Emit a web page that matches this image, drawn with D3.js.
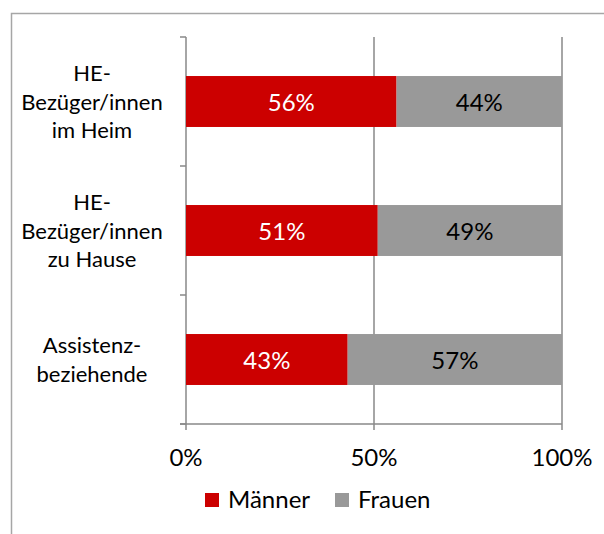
<!DOCTYPE html>
<html>
<head>
<meta charset="utf-8">
<script src="https://cdn.jsdelivr.net/npm/d3@7"></script>
<style>
  body { margin: 0; background: #fff; }
  svg { display: block; font-family: Lato, "Open Sans", sans-serif; }
</style>
</head>
<body>
<svg id="chart"></svg>
<script>
// Data
const categories = [
  ["HE-", "Bezüger/innen", "im Heim"],
  ["HE-", "Bezüger/innen", "zu Hause"],
  ["Assistenz-", "beziehende"],
];
const maenner = [56, 51, 43];
const frauen = [44, 49, 57];
const seriesNames = ["Männer", "Frauen"];
const xTicks = [0, 50, 100];

const width = 604;
const height = 534;
const plot = { left: 186, right: 562, top: 37, bottom: 424 };
const colors = { Männer: "#cc0000", Frauen: "#999999" };
const axisColor = "#898989";

const svg = d3.select("#chart").attr("width", width).attr("height", height);

// Outer frame (runs off the right and bottom edge)
svg
  .append("rect")
  .attr("x", 11.5)
  .attr("y", 13.5)
  .attr("width", 700)
  .attr("height", 700)
  .attr("fill", "none")
  .attr("stroke", "#a6a6a6")
  .attr("stroke-width", 1.5);

const keys = categories.map((d, i) => i);

const xScale = d3.scaleLinear().domain([0, 100]).range([plot.left, plot.right]);
const yScale = d3
  .scaleBand()
  .domain(keys)
  .range([plot.top, plot.bottom])
  .paddingInner(0.605)
  .paddingOuter(0.3025);

// Gridlines + x ticks
svg
  .append("g")
  .selectAll("line")
  .data(xTicks)
  .enter()
  .append("line")
  .attr("x1", (d) => xScale(d))
  .attr("x2", (d) => xScale(d))
  .attr("y1", plot.top)
  .attr("y2", plot.bottom + 6)
  .attr("stroke", axisColor)
  .attr("stroke-width", 1.5);

// Bottom axis line
svg
  .append("line")
  .attr("x1", plot.left - 6)
  .attr("x2", plot.right)
  .attr("y1", plot.bottom)
  .attr("y2", plot.bottom)
  .attr("stroke", axisColor)
  .attr("stroke-width", 1.5);

// Category ticks on the left axis
const catEdges = d3.scaleLinear().domain([0, categories.length]).range([plot.top, plot.bottom]);
svg
  .append("g")
  .selectAll("line")
  .data(d3.range(categories.length + 1))
  .enter()
  .append("line")
  .attr("x1", plot.left - 6)
  .attr("x2", plot.left)
  .attr("y1", (d) => catEdges(d))
  .attr("y2", (d) => catEdges(d))
  .attr("stroke", axisColor)
  .attr("stroke-width", 1.5);

// x tick labels
svg
  .append("g")
  .selectAll("text")
  .data(xTicks)
  .enter()
  .append("text")
  .attr("x", (d) => xScale(d))
  .attr("y", 466)
  .attr("text-anchor", "middle")
  .attr("font-size", 24)
  .attr("fill", "#000")
  .text((d) => d + "%");

// Category labels
const lineH = 28.5;
const catLabels = svg
  .append("g")
  .selectAll("text")
  .data(categories)
  .enter()
  .append("text")
  .attr("text-anchor", "middle")
  .attr("font-size", 22)
  .attr("fill", "#000");

catLabels
  .selectAll("tspan")
  .data((d, i) => d.map((line, j) => ({ line, j, n: d.length, i })))
  .enter()
  .append("tspan")
  .attr("x", 92)
  .attr("y", (d) => yScale(d.i) + yScale.bandwidth() / 2 + (d.j - (d.n - 1) / 2) * lineH + 8)
  .text((d) => d.line);

// Stacked bars
const rows = keys.map((i) => ({ i, Männer: maenner[i], Frauen: frauen[i] }));
const stacked = d3.stack().keys(seriesNames)(rows);

const layers = svg
  .append("g")
  .selectAll("g")
  .data(stacked)
  .enter()
  .append("g")
  .attr("fill", (d) => colors[d.key]);

layers
  .selectAll("rect")
  .data((d) => d)
  .enter()
  .append("rect")
  .attr("x", (d) => xScale(d[0]))
  .attr("y", (d) => yScale(d.data.i))
  .attr("width", (d) => xScale(d[1]) - xScale(d[0]))
  .attr("height", yScale.bandwidth());

// Value labels
layers
  .selectAll("text")
  .data((d) => d.map((v) => ({ v, key: d.key })))
  .enter()
  .append("text")
  .attr("x", (d) => (xScale(d.v[0]) + xScale(d.v[1])) / 2)
  .attr("y", (d) => yScale(d.v.data.i) + yScale.bandwidth() / 2 + 9)
  .attr("text-anchor", "middle")
  .attr("font-size", 24)
  .attr("fill", (d) => (d.key === "Männer" ? "#fff" : "#000"))
  .text((d) => d.v[1] - d.v[0] + "%");

// Legend
const legend = svg.append("g");
const legendX = [205, 335];
seriesNames.forEach((name, i) => {
  legend
    .append("rect")
    .attr("x", legendX[i])
    .attr("y", 493)
    .attr("width", 14)
    .attr("height", 14)
    .attr("fill", colors[name]);
  legend
    .append("text")
    .attr("x", legendX[i] + 23)
    .attr("y", 508)
    .attr("font-size", 24)
    .attr("fill", "#000")
    .text(name);
});
</script>
</body>
</html>
